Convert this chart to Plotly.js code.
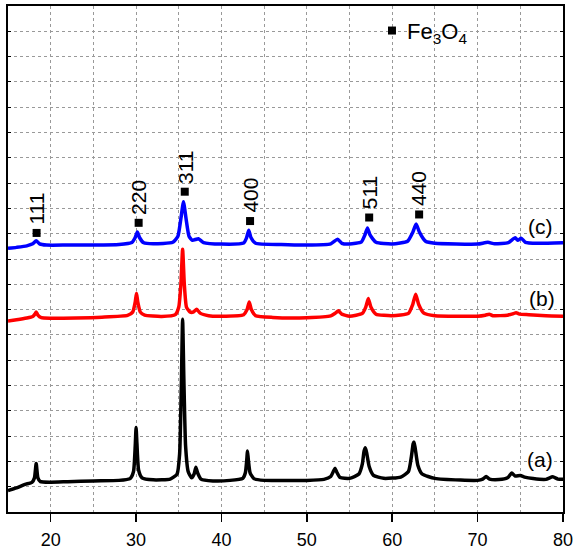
<!DOCTYPE html>
<html>
<head>
<meta charset="utf-8">
<script src="https://cdn.plot.ly/plotly-3.0.1.min.js"></script>
<style>html,body{margin:0;padding:0;background:#fff;}#chart{width:574px;height:550px;}</style>
</head>
<body>
<div id="chart"></div>
<script>
// 2θ (degrees) and intensity (arb. units, offset stacked)
const xA = [15,16,17,17.8,18.1,18.3,18.5,18.8,20,22,25,28,29.3,29.7,29.9,30.0,30.1,30.3,30.7,32,34,34.8,35.1,35.3,35.45,35.6,35.8,36.1,36.5,36.8,37.0,37.2,37.6,39,41,42.5,42.8,42.95,43.05,43.15,43.35,43.8,45,48,50,52,52.8,53.1,53.3,53.5,53.9,55,56.1,56.5,56.7,56.85,57.0,57.3,57.8,59,61,61.9,62.25,62.45,62.55,62.7,63.0,63.5,65,68,70,70.6,71.0,71.4,72.5,73.5,74.0,74.4,75.0,75.5,76.5,78,78.8,79.4,80];
const yA = [0.85,0.95,1.09,1.17,1.35,1.92,1.35,1.2,1.18,1.2,1.23,1.25,1.32,1.6,2.6,3.34,2.7,1.65,1.35,1.27,1.3,1.5,2.3,5.0,7.62,5.2,2.6,1.6,1.35,1.5,1.77,1.55,1.3,1.23,1.25,1.33,1.55,2.0,2.41,2.05,1.55,1.32,1.25,1.25,1.25,1.29,1.4,1.6,1.73,1.58,1.36,1.33,1.5,1.9,2.4,2.54,2.35,1.8,1.45,1.33,1.38,1.6,2.2,2.7,2.77,2.5,1.85,1.5,1.33,1.26,1.25,1.3,1.4,1.3,1.28,1.35,1.54,1.42,1.44,1.38,1.32,1.29,1.39,1.3,1.29];

const xB = [15,16,17.2,17.9,18.15,18.3,18.5,18.9,20,23,26,29.0,29.6,29.9,30.05,30.2,30.5,31,33,34.6,35.0,35.25,35.45,35.65,35.9,36.3,36.7,37.1,37.5,38.5,40,42.6,43.0,43.25,43.5,44,46,50,52.8,53.3,53.7,54.1,55,56.5,56.9,57.2,57.5,58.1,60,61.9,62.4,62.75,63.1,63.7,65,70,70.9,71.35,71.8,73.5,74.2,74.5,74.9,76,78,80];
const yB = [7.55,7.6,7.67,7.73,7.82,7.91,7.78,7.68,7.66,7.67,7.7,7.77,7.9,8.3,8.65,8.3,7.9,7.78,7.73,7.8,8.1,9.0,10.39,9.0,8.1,7.91,7.9,8.01,7.86,7.76,7.74,7.8,8.0,8.30,8.0,7.76,7.69,7.68,7.75,7.85,7.95,7.82,7.74,7.85,8.1,8.44,8.1,7.82,7.76,7.85,8.2,8.61,8.2,7.86,7.76,7.74,7.78,7.82,7.76,7.78,7.84,7.88,7.82,7.8,7.76,7.74];

const xC = [15,16,17.2,17.9,18.3,18.7,19.5,22,25,28,29.5,29.9,30.15,30.4,30.9,32,34.3,34.9,35.25,35.55,35.85,36.2,36.6,37.3,37.9,40,42.6,42.95,43.2,43.45,44,47,50,52.8,53.6,54.1,55,56.4,56.8,57.1,57.4,58.1,60,61.8,62.4,62.8,63.2,63.9,65,70,71.2,72,73.6,74.4,74.7,75.1,75.6,77,80];
const yC = [10.42,10.46,10.52,10.6,10.72,10.6,10.55,10.55,10.55,10.57,10.65,10.85,11.07,10.85,10.64,10.6,10.66,10.9,11.6,12.26,11.6,10.9,10.74,10.80,10.65,10.59,10.63,10.85,11.14,10.85,10.62,10.57,10.55,10.6,10.78,10.62,10.59,10.68,10.95,11.23,10.95,10.66,10.59,10.7,11.05,11.38,11.05,10.7,10.62,10.59,10.66,10.6,10.65,10.84,10.74,10.82,10.66,10.62,10.64];

// Fe3O4 reflection markers and hkl labels
const peakX = [18.35, 30.3, 35.7, 43.35, 57.3, 63.15];
const peakY = [11.03, 11.43, 12.66, 11.5, 11.64, 11.76];
const peakLabels = ["111", "220", "311", "400", "511", "440"];

// sample labels
const sampleLabels = ["(a)", "(b)", "(c)"];
const sampleX = [77.3, 77.5, 77.4];
const sampleY = [2.06, 8.45, 11.27];

const legendX = [59.97];
const legendY = [19.03];
const legendText = "Fe<sub>3</sub>O<sub>4</sub>";

const xTicks = [20, 30, 40, 50, 60, 70, 80];

const lineStyle = (c) => ({color: c, width: 3.5, shape: 'spline', smoothing: 0.5});

const traces = [
  {x: xA, y: yA, mode: 'lines', line: lineStyle('#000000'), hoverinfo: 'skip'},
  {x: xB, y: yB, mode: 'lines', line: lineStyle('#ff0000'), hoverinfo: 'skip'},
  {x: xC, y: yC, mode: 'lines', line: lineStyle('#0000ff'), hoverinfo: 'skip'},
  {x: peakX, y: peakY, mode: 'markers', marker: {symbol: 'square', size: 8, color: '#000'}, hoverinfo: 'skip'},
  {x: legendX, y: legendY, mode: 'markers', marker: {symbol: 'square', size: 8, color: '#000'}, hoverinfo: 'skip'}
];

const annotations = [];
peakLabels.forEach((t, i) => {
  annotations.push({x: peakX[i], y: peakY[i], xref: 'x', yref: 'y', text: t, showarrow: false,
    textangle: -90, yanchor: 'bottom', xanchor: 'center', yshift: 6,
    font: {family: 'Liberation Sans, Arial, sans-serif', size: 21, color: '#000'}});
});
sampleLabels.forEach((t, i) => {
  annotations.push({x: sampleX[i], y: sampleY[i], xref: 'x', yref: 'y', text: t, showarrow: false,
    xanchor: 'center', yanchor: 'middle',
    font: {family: 'Liberation Sans, Arial, sans-serif', size: 21, color: '#000'}});
});
annotations.push({x: legendX[0], y: legendY[0], xref: 'x', yref: 'y', text: legendText, showarrow: false,
  xanchor: 'left', yanchor: 'middle', xshift: 13, yshift: -2,
  font: {family: 'Liberation Sans, Arial, sans-serif', size: 22, color: '#000'}});

const layout = {
  width: 574, height: 550,
  margin: {l: 8, r: 11, t: 6, b: 38, pad: 0},
  paper_bgcolor: '#fff', plot_bgcolor: '#fff',
  showlegend: false,
  font: {family: 'Liberation Sans, Arial, sans-serif', size: 18, color: '#000'},
  xaxis: {
    range: [15, 80], tickvals: xTicks, ticks: 'outside', ticklen: 8, tickwidth: 1.5, tickcolor: '#000',
    ticklabelstandoff: 2,
    showline: true, linecolor: '#000', linewidth: 2, mirror: true,
    showgrid: true, gridcolor: '#999', griddash: '3px,3px', gridwidth: 1,
    minor: {dtick: 5, tick0: 15, showgrid: true, gridcolor: '#999', griddash: '3px,3px', gridwidth: 1, ticks: ''},
    zeroline: false, tickfont: {size: 18}
  },
  yaxis: {
    range: [0, 20], dtick: 1, tick0: 0, ticks: 'inside', ticklen: 3, tickcolor: '#000',
    showticklabels: false,
    showline: true, linecolor: '#000', linewidth: 2, mirror: 'ticks',
    showgrid: true, gridcolor: '#999', griddash: '3px,3px', gridwidth: 1,
    zeroline: false
  },
  annotations: annotations
};

Plotly.newPlot('chart', traces, layout, {staticPlot: true, displayModeBar: false});
</script>
</body>
</html>
